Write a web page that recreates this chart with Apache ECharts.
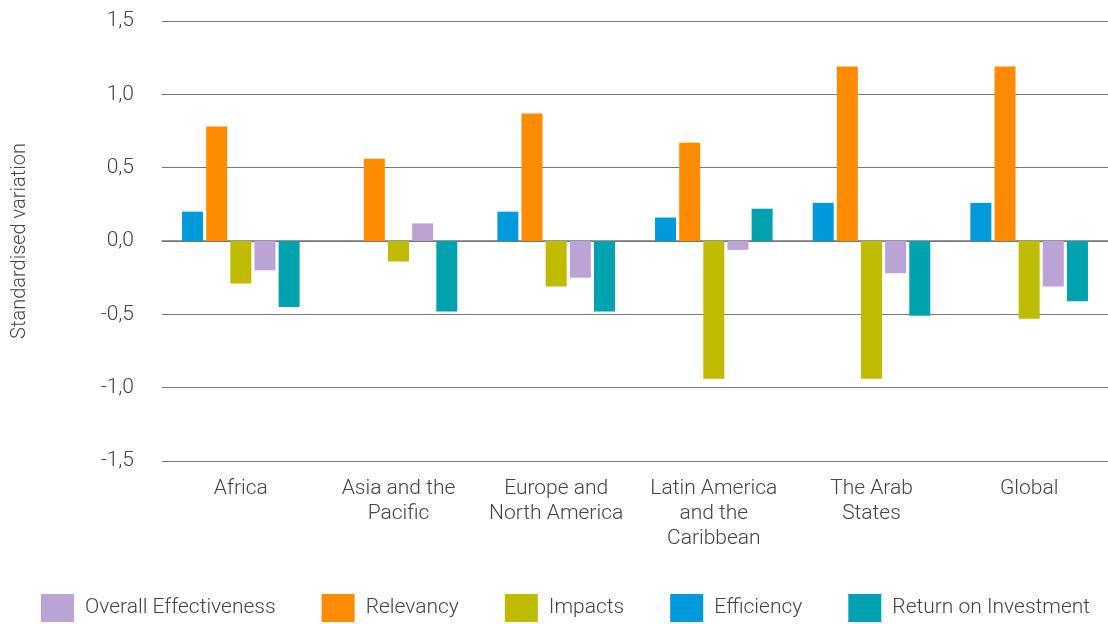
<!DOCTYPE html>
<html>
<head>
<meta charset="utf-8">
<script src="https://cdn.jsdelivr.net/npm/echarts@6/dist/echarts.min.js"></script>
<style>
  html, body { margin: 0; padding: 0; background: #fff; }
  #chart { width: 1108px; height: 624px; }
</style>
</head>
<body>
<div id="chart"></div>
<script>
const regions = ['Africa', 'Asia and the\nPacific', 'Europe and\nNorth America', 'Latin America\nand the\nCaribbean', 'The Arab\nStates', 'Global']

const efficiency = [0.20, null, 0.20, 0.16, 0.26, 0.26]
const relevancy = [0.78, 0.56, 0.87, 0.67, 1.19, 1.19]
const impacts = [-0.29, -0.14, -0.31, -0.94, -0.94, -0.53]
const overall = [-0.20, 0.12, -0.25, -0.06, -0.22, -0.31]
const roi = [-0.45, -0.48, -0.48, 0.22, -0.51, -0.41]

const legendOrder = ['Overall Effectiveness', 'Relevancy', 'Impacts', 'Efficiency', 'Return on Investment']

const chart = echarts.init(document.getElementById('chart'))

const font = { fontFamily: 'Roboto', fontWeight: 300, color: '#444', fontSize: 21 }

function bar(name, data, color) {
  return {
    name: name,
    type: 'bar',
    data: data,
    barWidth: 21,
    barGap: '15%',
    itemStyle: { color: color },
    animation: false
  }
}

chart.setOption({
  textStyle: { fontFamily: 'Roboto' },
  grid: { left: 162, right: 0, top: 21, bottom: 163, outerBoundsMode: 'none' },
  legend: {
    data: legendOrder,
    bottom: 2,
    left: 41,
    padding: 0,
    itemWidth: 33,
    itemHeight: 28,
    itemGap: 46,
    icon: 'rect',
    textStyle: { ...font, padding: [0, 0, 0, 6] }
  },
  xAxis: {
    type: 'category',
    data: regions,
    axisLine: { lineStyle: { color: '#777', width: 1.5 } },
    axisTick: { show: false },
    axisLabel: { ...font, interval: 0, margin: 15, lineHeight: 25, verticalAlign: 'top' },
    position: 'bottom'
  },
  yAxis: {
    type: 'value',
    min: -1.5,
    max: 1.5,
    interval: 0.5,
    name: 'Standardised variation',
    nameLocation: 'middle',
    nameGap: 132,
    nameTextStyle: { ...font, fontSize: 20 },
    axisLine: { show: false },
    axisTick: { show: false },
    axisLabel: {
      ...font,
      margin: 28,
      formatter: v => v.toFixed(1).replace('.', ',')
    },
    splitLine: { lineStyle: { color: '#777', width: 1.2 } }
  },
  series: [
    bar('Efficiency', efficiency, '#0099da'),
    bar('Relevancy', relevancy, '#ff8c00'),
    bar('Impacts', impacts, '#bfbc00'),
    bar('Overall Effectiveness', overall, '#bba4d5'),
    bar('Return on Investment', roi, '#00a2b0')
  ]
})
</script>
</body>
</html>
